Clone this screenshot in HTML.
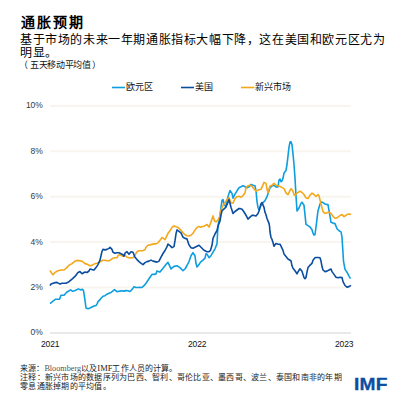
<!DOCTYPE html>
<html lang="zh-CN"><head><meta charset="utf-8">
<style>
html,body{margin:0;padding:0;background:#fff;}
body{width:406px;height:406px;position:relative;overflow:hidden;font-family:"Liberation Sans",sans-serif;color:#000;}
.t{position:absolute;white-space:nowrap;line-height:1;}
.yl{right:363.5px;font-size:8.5px;color:#3a3a3a;text-align:right;letter-spacing:-0.2px;}
.xl{font-size:8.5px;color:#111;top:340.2px;letter-spacing:-0.15px;}
.lg{position:absolute;top:83.3px;font-size:9px;color:#111;line-height:1;white-space:nowrap;}
.fn{position:absolute;left:20px;font-size:8px;letter-spacing:0.25px;color:#222;line-height:1;white-space:nowrap;}
svg{position:absolute;left:0;top:0;}
</style></head><body>
<div class="t" style="left:20.5px;top:14.5px;font-size:14px;font-weight:bold;letter-spacing:2px;">通胀预期</div>
<div class="t" style="left:20px;top:34px;font-size:12px;letter-spacing:0.6px;">基于市场的未来一年期通胀指标大幅下降，这在美国和欧元区尤为</div>
<div class="t" style="left:20px;top:46.6px;font-size:12px;letter-spacing:0.6px;">明显。</div>
<div class="t" style="left:22px;top:61px;font-size:9px;color:#111;letter-spacing:-0.4px;"><span style="margin-left:-3.5px;margin-right:3px;">（</span>五天移动平均值<span style="margin-left:2px;">）</span></div>
<div class="lg" style="left:126px;">欧元区</div>
<div class="lg" style="left:195px;">美国</div>
<div class="lg" style="left:255px;">新兴市场</div>
<div class="t yl" style="top:101.4px;">10%</div><div class="t yl" style="top:146.8px;">8%</div><div class="t yl" style="top:192.2px;">6%</div><div class="t yl" style="top:237.6px;">4%</div><div class="t yl" style="top:283.0px;">2%</div><div class="t yl" style="top:328.4px;">0%</div>
<div class="t xl" style="left:41px;">2021</div>
<div class="t xl" style="left:188px;">2022</div>
<div class="t xl" style="left:335px;">2023</div>
<svg width="406" height="406" viewBox="0 0 406 406">
<line x1="50" y1="105.9" x2="351" y2="105.9" stroke="#f7f5ee" stroke-width="2"/><line x1="50" y1="151.3" x2="351" y2="151.3" stroke="#f7f5ee" stroke-width="2"/><line x1="50" y1="196.7" x2="351" y2="196.7" stroke="#f7f5ee" stroke-width="2"/><line x1="50" y1="242.1" x2="351" y2="242.1" stroke="#f7f5ee" stroke-width="2"/><line x1="50" y1="287.5" x2="351" y2="287.5" stroke="#f7f5ee" stroke-width="2"/>
<line x1="50" y1="332.9" x2="351" y2="332.9" stroke="#e9e9e9" stroke-width="2"/>
<line x1="112" y1="87.5" x2="125" y2="87.5" stroke="#0e9ee0" stroke-width="1.6"/>
<line x1="181" y1="87.5" x2="194" y2="87.5" stroke="#0b4d9e" stroke-width="1.6"/>
<line x1="241" y1="87.5" x2="254.5" y2="87.5" stroke="#f3a81b" stroke-width="1.6"/>
<polyline fill="none" stroke="#0e9ee0" stroke-width="1.6" stroke-linejoin="round" points="50,303.6 53,301.2 55.6,299.2 59.5,299.2 61,295.3 64,295.3 66.7,292.3 70.6,289.9 72.6,291.3 74.6,290.8 78.5,288.9 80.5,289.9 82.5,289.4 83.5,290.5 84,293.7 85,300.6 86,308 88,308.7 90,308 92,307 94,306 96,305.5 97,304.1 98,301.6 100,299.6 101,298.2 103,296.2 105,295.7 107,294.2 109,293.2 111,292.5 113,290.8 114.5,289.6 117,291.7 119,291.3 120,291.1 122,290.8 124,291.1 126,290.6 128,290.8 130,291.4 131,290.6 133,288.2 134,286.7 136,287.5 138,287.5 140,287.2 142,287.5 144,285.7 146,283.2 148,280.3 150,277.3 152,274.4 154,274.4 156,273.9 157,270.9 159,271.9 160,271.9 163,268.3 167,263.3 168,262.3 171,268.9 174,266.4 177,265.8 180,267.6 183,270.7 185,269 187,265.5 189,261.6 191,255.7 193,252.7 195,255.7 196,263.6 197,267 199,264.6 200.5,262.1 203,260.1 205,258.2 206,253.7 207,254.2 209,257.7 211,255.7 213,252.2 215,248.8 217,243.9 218,225.3 220,215.9 221,207.2 222,200.3 223,199.5 224,203.8 226,207.2 227,200.3 229,193.4 230,190.5 232,193.4 233,198.2 235,194.2 237,190.8 239,187.8 241,186.8 243,185.6 245,186.8 247,187.8 249,186.8 251,184.4 253,185.3 255,185.8 256,190.8 257,201.6 258,207.5 259,210 261,205.5 263,202.6 265,200.6 267,196.7 269,190.8 270,187.8 272,186 274,185.2 276,186.9 278,186.9 279,180 280,179.1 281,181.7 282,180.9 283,178.3 284,173.1 286,170.5 287,164.5 288,155.9 289,147.2 290,142.1 291,141.7 292,144.7 293,154.1 294,164.5 295,178 296,196 297,211 299,208 301,203.3 302,202.3 304,205.3 305,214.8 306,224.3 308,225.7 310,227 312,229.7 313,233.1 314,235.1 315,234.5 316,227 317,218.9 318,210.7 319,207.4 320,204 321,202 323,202.6 325,204 327,204.6 328,204.6 329,210.7 330,216.2 331,222.3 333,223.1 335,223.6 337,228.8 339,230.8 341,231.9 342,237.1 343.5,261.1 345,269.4 347,272.2 349,276.1 350.5,278.6"/>
<polyline fill="none" stroke="#f3a81b" stroke-width="1.6" stroke-linejoin="round" points="50,270.5 52,273.7 53,274.8 55,272.4 58,270.8 61,270 64,270 66,268.4 69,265.2 72,263.6 75,261.2 77,260.4 80,260.9 82,261.2 85,263.6 87,264.1 89,265.4 91,265.8 93,264.6 95,263.6 97,263.2 99,262.2 101,261.2 103,260.2 105,260.2 107,260.7 109,260.7 111,259.7 113,258.2 115,257.7 117,257.7 118,255.8 119,254.8 121,255.3 123,256.3 125,255.2 127,257.2 129,257.7 131,257.9 133,257.7 135,255.2 137,251.7 139,250.8 141,250.8 143,250.6 145,249.8 146,247.3 148,245.3 150,244.9 152,244.4 154,243.9 156,243.9 158,242.9 159,241.4 161,238.9 162,237.5 163,238.2 165,239.7 166,237.7 168,233.3 170,230.8 172,227.4 174,225.9 176,226.7 178,227.4 179,228.4 181,230.3 183,232.8 185,234.8 187,235.8 189,236 191,235.3 193,233.3 195,229.9 197,227.4 199,226.4 200,227.1 204,226.2 207,224.5 209,227.1 211,221.9 213,215.9 214.5,221 216,221.9 218,220.2 220,215.9 221,209.8 223,205.5 225,202.9 227,199.5 229,197.8 231,202.9 233,203.1 235,198.6 237,196.7 239,196.2 241,197.2 243,195.7 245,192.7 246,187.8 248,185.8 250,185.3 252,186.3 254,188.8 256,191.3 257,190.8 259,189.8 261,189.3 263,184.9 264,182.4 266,183.4 267,188.8 268,192.7 270,186 272,185.2 274,183.4 276,185.2 279,186 281,186.9 284,188.6 286,192.9 288,194.7 290,190.3 291,188.6 293,191.2 294,194.7 295,195.2 297,193.1 300,191.1 302,192.5 304,194.5 306,197.9 308,198.6 310,195.2 312,193.1 314,194.5 316,196.5 318,194.5 319,195.8 320,199.9 321,204 323,211.4 325,213.5 327,212.8 329,212.1 331,213.5 333,216.2 335,218.2 337,217.9 340,215.5 342,214.6 344,216.6 347,214.6 349,213.9 351,214.6"/>
<polyline fill="none" stroke="#0b4d9e" stroke-width="1.6" stroke-linejoin="round" points="50,285.6 51,284 54,282.9 57,282.4 60,284.1 62,283.2 66,283.2 69,281.7 72,279.2 75,276.4 78,272.4 80,271.6 82,273.7 85,272 87,272.5 89,271 90,269 92,269.6 94,270 96,267.6 98,264.6 100,260.2 101,255.8 102,251.3 103,249.4 105,249.9 107,249.4 109,248.4 110,247.4 112,249.4 113,252.3 115,253.3 117,252.8 119,252.8 121,253.8 123,254.8 124,256.2 125,253.2 127,251.7 129,254.2 131,251.7 133,252.2 135,257.2 137,259.6 139,261.6 141.5,263.6 143,264.6 145,262.6 147,261.6 149,261.1 151,260.1 153,261.1 155,261.6 157,262.1 159,261.1 161,257.2 163,253.5 165,250.5 167,246.6 168,244.1 170,245.6 172,247.6 174,246.6 175,240.7 176,233.8 177,229.9 179,231.3 181,232.8 183,237.2 185,238.4 187,238.9 189,244.9 191,247.8 193,248.3 195,247.3 197,246.3 199,245.3 201,247.3 203,249.3 205,250.8 207,251.7 209,251.7 210.5,250.3 212,245.3 213,238.3 215,234 217,230.5 218,226.2 220,221 221,215 222,210.7 225,208.1 227,204.7 229,199.5 231,207.2 233,213.4 235,211.5 237,210 239,208.5 240,208.6 242,209.2 243,210.5 245,213.5 247,217.2 248,219.1 250,217.2 252,215.4 254,215.4 256,216 258,213.5 259,211 261,203.7 262,202.5 264,207.4 265,212.3 266,214.8 267,218.5 269,223.4 269.5,225.8 270,232 271,237.5 272,239.4 273,242.5 274,246.2 275,244.8 276,243.6 278,244.2 280,244.2 281,246.1 283,250.4 284,254.1 286,256.5 288,259 290,260.2 291,260.8 292,265.8 293,268.2 295,270.7 297,273.8 298,271.9 300,268.8 302,271.3 303,274.4 304,277.5 305,278.7 306,277.5 307,271.9 308,267.6 310,265.2 312,263.3 313,260.2 315,257.8 316,257.5 318,257.5 320,257.8 321,261.1 322,266.6 323,270 325,271.6 327,271.1 329,270 331,269.1 332,271.6 334,274.4 336,277.2 338,277.7 340,277.2 342,277.5 343,281.6 345,285.5 347,287.1 349,286.6 351,285.3"/>
</svg>
<div class="fn" style="top:363.6px;letter-spacing:0.12px;">来源：<span style="font-family:'Liberation Serif',serif;color:#555;font-size:8.2px;letter-spacing:0px;">Bloomberg</span>以及<span style="font-family:'Liberation Serif',serif;font-size:8.5px;letter-spacing:0px;">IMF</span>工作人员的计算。</div>
<div class="fn" style="top:374px;">注释：新兴市场的数据序列为巴西、智利、哥伦比亚、墨西哥、波兰、泰国和南非的年期</div>
<div class="fn" style="top:383px;">零息通胀掉期的平均值。</div>
<div class="t" style="left:354px;top:376.3px;font-size:16.5px;font-weight:bold;color:#0b4ea2;letter-spacing:0.2px;transform:scaleX(1.16);-webkit-text-stroke:0.3px #0b4ea2;transform-origin:0 0;">IMF</div>
</body></html>
